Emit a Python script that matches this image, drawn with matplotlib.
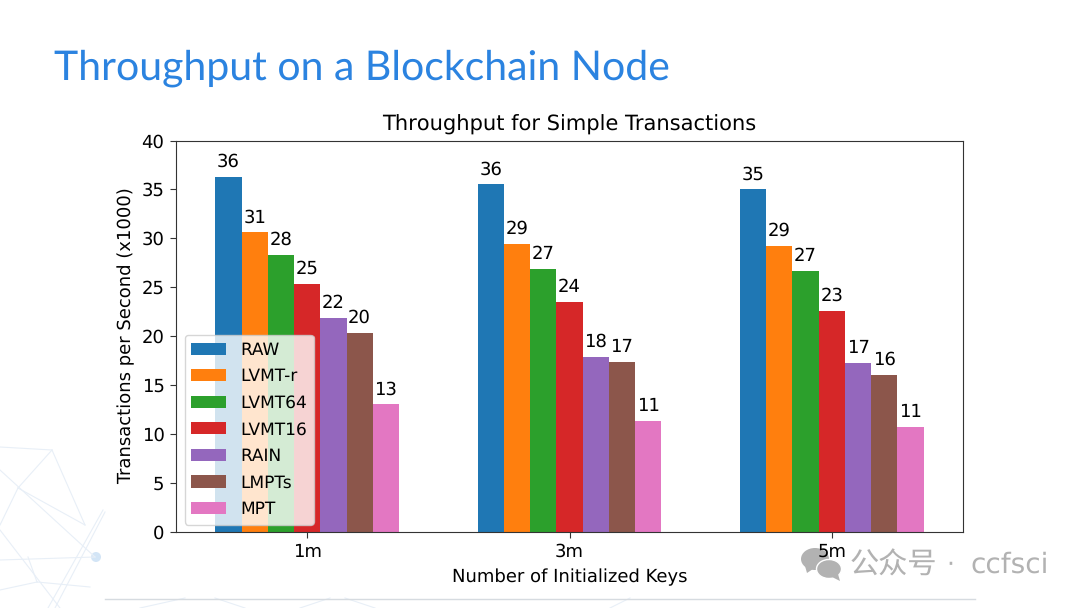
import numpy as np
import matplotlib
matplotlib.use("Agg")
import matplotlib.pyplot as plt
from matplotlib.patches import Ellipse, Polygon

groups = ["1m", "3m", "5m"]
series = ["RAW", "LVMT-r", "LVMT64", "LVMT16", "RAIN", "LMPTs", "MPT"]
raw = [36.3, 35.5, 35.0]
lvmt_r = [30.6, 29.4, 29.2]
lvmt64 = [28.3, 26.9, 26.6]
lvmt16 = [25.3, 23.5, 22.6]
rain = [21.8, 17.9, 17.2]
lmpts = [20.3, 17.3, 16.0]
mpt = [13.0, 11.3, 10.7]
values = [raw, lvmt_r, lvmt64, lvmt16, rain, lmpts, mpt]

W, H = 1080, 608
plt.rcParams['font.family'] = ['DejaVu Sans']
plt.rcParams['text.hinting'] = 'no_hinting'
plt.rcParams['text.hinting_factor'] = 1
fig = plt.figure(figsize=(W / 100, H / 100), dpi=100, facecolor='white')

# background layer in pixel coordinates
bg = fig.add_axes([0, 0, 1, 1], zorder=0)
bg.set_xlim(0, W); bg.set_ylim(H, 0); bg.axis('off')
c = '#e8eff7'
for seg in [((0, 447), (52, 450)), ((52, 450), (18, 488)), ((52, 450), (85, 525)),
            ((18, 488), (0, 525)), ((0, 470), (95, 557)), ((18, 488), (85, 525)),
            ((103, 510), (48, 608)), ((105, 512), (55, 608)), ((0, 530), (60, 608)),
            ((0, 560), (95, 557)), ((0, 590), (37, 582)), ((37, 582), (90, 587)),
            ((28, 557), (37, 582)), ((140, 608), (185, 598)), ((215, 598), (245, 608)),
            ((300, 608), (330, 598)), ((345, 598), (375, 608)), ((610, 608), (630, 598))]:
    bg.plot(*zip(*seg), color=c, lw=0.8)
bg.add_patch(Ellipse((96, 557), 10, 10, color='#d3e5f6', lw=0))
bg.plot([105, 975], [598.5, 598.5], color='#d6dbe0', lw=1)

# watermark layer below the chart so that the tick label stays on top
ov = fig.add_axes([0, 0, 1, 1], zorder=1)
ov.set_xlim(0, W); ov.set_ylim(H, 0); ov.axis('off'); ov.patch.set_alpha(0)
g = '#b2b2b2'
ov.add_patch(Ellipse((815, 559), 28, 22, color=g, lw=0, zorder=1))
ov.add_patch(Polygon([(805, 566), (807, 573), (813, 569)], color=g, lw=0, zorder=1))
ov.add_patch(Ellipse((829, 569), 25, 19, facecolor=g, edgecolor='white', lw=1, zorder=2))
ov.add_patch(Polygon([(832, 577), (840, 581), (838, 574)], color=g, lw=0, zorder=2))
ov.text(850, 565, "公众号", color=g, fontsize=21, family='Noto Sans CJK SC', va='center', ha='left')
ov.text(946, 565, "·", color=g, fontsize=18, family='DejaVu Sans', va='center', ha='left')
ov.text(970, 565, "ccfsci", color=g, fontsize=19.8, family='DejaVu Sans', va='center', ha='left')

fig.text(54, H - 80, "Throughput on a Blockchain Node", transform=None,
         fontsize=29.5, color='#2b83e0', family='Lato', va='baseline', ha='left')

ax = fig.add_axes([176 / W, 1 - 531.5 / H, (963 - 176) / W, (531.5 - 140.5) / H], zorder=2)
ax.patch.set_alpha(1)
x = np.arange(len(groups))
bw = 0.1
colors = ['#1f77b4', '#ff7f0e', '#2ca02c', '#d62728', '#9467bd', '#8c564b', '#e377c2']
for i, (name, vals) in enumerate(zip(series, values)):
    pos = x + (i - 3) * bw
    ax.bar(pos, vals, bw, label=name, color=colors[i])
    for p, v in zip(pos, vals):
        ax.annotate(f"{v:.0f}", (p, v), xytext=(0, 4.5), textcoords='offset points',
                    ha='center', va='bottom', fontsize=12.7, color='black')
ax.set_xlim(-0.5, 2.5)
ax.set_ylim(0, 40)
ax.set_xticks(x, groups)
ax.tick_params(labelsize=12.7, length=4.3, pad=4, color='#333333')
for s in ax.spines.values():
    s.set_edgecolor('#333333')
ax.set_xlabel("Number of Initialized Keys", fontsize=13.0, labelpad=6)
ax.set_ylabel("Transactions per Second (x1000)", fontsize=12.7, labelpad=5)
ax.set_title("Throughput for Simple Transactions", fontsize=15.25, pad=7)
ax.legend(loc='lower left', fontsize=12.5, bbox_to_anchor=(8.5 / 787, 7 / 391), borderaxespad=0,
          labelspacing=0.58, handlelength=2.0, handletextpad=0.8, framealpha=0.8)

fig.savefig("out.png", dpi=100)
